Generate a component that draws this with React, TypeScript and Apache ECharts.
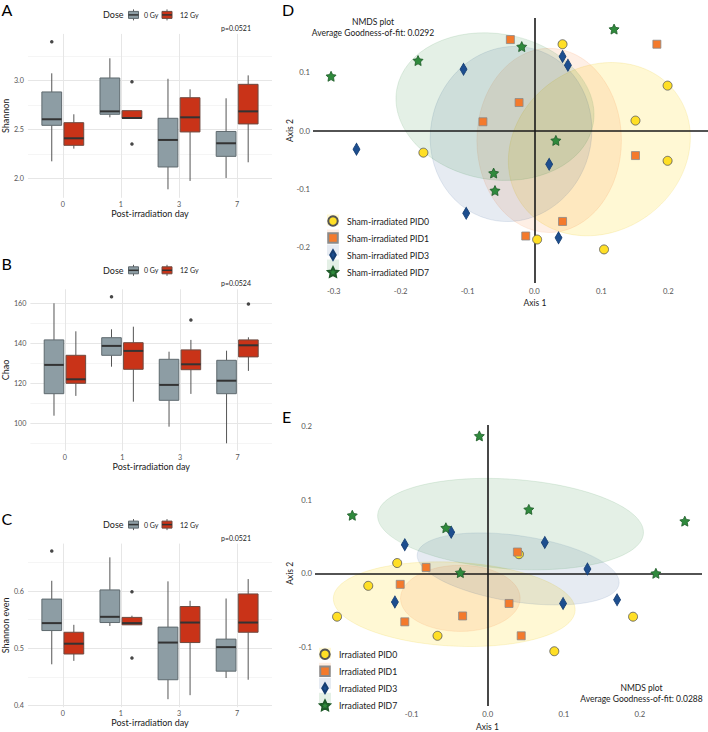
import React, { useEffect, useRef } from 'react';
import * as echarts from 'echarts';

// ---------- data ----------
const days = ['0', '1', '3', '7'];
const doses = ['0 Gy', '12 Gy'];

// five-number summaries [min, q1, median, q3, max] per post-irradiation day
const shannon0Gy = [[2.174, 2.543, 2.605, 2.885, 3.076], [2.625, 2.656, 2.686, 3.028, 3.23], [1.887, 2.116, 2.393, 2.615, 3.02], [2.003, 2.225, 2.359, 2.48, 2.82]];
const shannon12Gy = [[2.304, 2.338, 2.41, 2.57, 2.656], [2.615, 2.615, 2.618, 2.693, 2.693], [1.973, 2.475, 2.625, 2.826, 2.912], [2.164, 2.557, 2.686, 2.963, 3.055]];
const shannonOut0Gy = [[0, 3.4]];
const shannonOut12Gy = [[1, 2.99], [1, 2.352]];

const chao0Gy = [[103.8, 114.8, 129.2, 141.7, 160], [128.3, 134, 138.7, 142.8, 147], [98.3, 111.5, 119.2, 132, 135.8], [90, 114.8, 121.3, 131.5, 136.3]];
const chao12Gy = [[113.7, 120, 122, 134, 146], [110.8, 127, 136.2, 140.3, 148.3], [114.7, 126.8, 129.5, 136.7, 141.7], [126.2, 133.2, 139, 141.7, 143]];
const chaoOut0Gy = [[1, 163.3]];
const chaoOut12Gy = [[2, 151.7], [3, 159.7]];

const even0Gy = [[0.472, 0.531, 0.544, 0.586, 0.618], [0.539, 0.545, 0.555, 0.602, 0.659], [0.411, 0.445, 0.51, 0.537, 0.617], [0.448, 0.46, 0.502, 0.516, 0.587]];
const even12Gy = [[0.478, 0.49, 0.508, 0.528, 0.541], [0.541, 0.541, 0.544, 0.554, 0.557], [0.418, 0.51, 0.545, 0.573, 0.583], [0.445, 0.528, 0.545, 0.595, 0.621]];
const evenOut0Gy = [[0, 0.67]];
const evenOut12Gy = [[1, 0.599], [1, 0.483]];

const shannonTicks = [2.0, 2.5, 3.0];
const shannonMinor = [2.25, 2.75, 3.25];
const chaoTicks = [100, 120, 140, 160];
const chaoMinor = [90, 110, 130, 150];
const evenTicks = [0.4, 0.5, 0.6];
const evenMinor = [0.45, 0.55, 0.65];
const pValues = ['p=0.0521', 'p=0.0524', 'p=0.0521'];

// NMDS coordinates [axis1, axis2]
const shamNames = ['Sham-irradiated PID0', 'Sham-irradiated PID1', 'Sham-irradiated PID3', 'Sham-irradiated PID7'];
const shamPID0 = [[0.042, 0.148], [0.199, 0.077], [0.151, 0.017], [0.199, -0.052], [-0.166, -0.038], [0.004, -0.187], [0.104, -0.204]];
const shamPID1 = [[-0.036, 0.156], [0.183, 0.148], [-0.023, 0.048], [-0.077, 0.015], [0.151, -0.043], [0.042, -0.156], [-0.013, -0.181]];
const shamPID3 = [[0.042, 0.127], [0.05, 0.112], [-0.106, 0.105], [-0.266, -0.032], [0.022, -0.058], [-0.102, -0.142], [0.036, -0.184]];
const shamPID7 = [[0.119, 0.174], [-0.019, 0.144], [-0.174, 0.12], [-0.304, 0.093], [0.032, -0.017], [-0.061, -0.073], [-0.059, -0.103]];
// confidence ellipses [centre1, centre2, radius1, radius2, tilt(deg)]
const shamEllipses = [[0.097, -0.032, 0.142, 0.141, 35], [0.022, -0.017, 0.108, 0.158, 0], [-0.035, -0.006, 0.12, 0.151, -15], [-0.059, 0.041, 0.149, 0.125, -10]];
const shamXTicks = [-0.3, -0.2, -0.1, 0, 0.1, 0.2];
const shamYTicks = [-0.2, -0.1, 0, 0.1];
const shamFit = 'Average Goodness-of-fit: 0.0292';

const irrNames = ['Irradiated PID0', 'Irradiated PID1', 'Irradiated PID3', 'Irradiated PID7'];
const irrPID0 = [[-0.119, 0.014], [-0.157, -0.017], [-0.198, -0.059], [-0.066, -0.085], [0.041, 0.026], [0.191, -0.059], [0.0875, -0.106]];
const irrPID1 = [[-0.081, 0.008], [-0.115, -0.015], [-0.109, -0.066], [-0.033, -0.058], [0.039, 0.029], [0.028, -0.041], [0.044, -0.085]];
const irrPID3 = [[-0.109, 0.039], [-0.048, 0.056], [-0.122, -0.039], [0.075, 0.042], [0.131, 0.006], [0.099, -0.041], [0.17, -0.036]];
const irrPID7 = [[-0.178, 0.079], [-0.055, 0.062], [-0.036, 0.001], [0.054, 0.087], [0.259, 0.071], [0.221, 0.0], [-0.011, 0.187]];
const irrEllipses = [[-0.044, -0.042, 0.159, 0.057, -3], [-0.036, -0.034, 0.0786, 0.045, 0], [0.04, 0.006, 0.134, 0.045, -8.5], [0.03, 0.067, 0.175, 0.061, -4]];
const irrXTicks = [-0.1, 0, 0.1, 0.2];
const irrYTicks = [-0.1, 0, 0.1, 0.2];
const irrFit = 'Average Goodness-of-fit: 0.0288';

// ---------- styles ----------
const FONT = 'Lato';
const GRAY_FILL = '#8D9DA4';
const GRAY_LINE = '#5E696E';
const RED_FILL = '#C93318';
const RED_LINE = '#6E4A40';
const WHISKER = '#555555';
const MEDIAN = '#333333';
const MAJOR_GRID = '#E6E6E6';
const MINOR_GRID = '#F3F3F3';
const TICK_COLOR = '#555555';
const TITLE_COLOR = '#1a1a1a';

const groupColors = ['#FFDF26', '#F47A2C', '#1D4E8F', '#2F8A3C'];
const groupBorders = ['#555555', '#8a8a8a', '#173f73', '#1e5a28'];
const ellipseFills = ['rgba(255,215,0,0.17)', 'rgba(244,123,42,0.12)', 'rgba(26,74,138,0.11)', 'rgba(46,139,62,0.13)'];
const ellipseStrokes = ['rgba(230,190,0,0.18)', 'rgba(244,123,42,0.15)', 'rgba(26,74,138,0.13)', 'rgba(46,139,62,0.15)'];
const STAR = 'path://M0,-10L2.94,-4.05L9.51,-3.09L4.76,1.55L5.88,8.09L0,5L-5.88,8.09L-4.76,1.55L-9.51,-3.09L-2.94,-4.05Z';
const SQUARE = 'path://M0,0H10V10H0Z';
const DIAMOND = 'path://M3.5,0L7,6L3.5,12L0,6Z';
const symbols = ['circle', 'rect', 'diamond', STAR];
const symbolSizes: any[] = [9, 8, [7, 12], 10];
const legendIcons = ['circle', SQUARE, DIAMOND, STAR];

const OFF = 0.19;
const BOXW = 0.34;

// box panel layout (pixels) and axis ranges
const boxPanels = [
  { letter: 'A', name: 'Shannon', top: 33.9, height: 163.9, min: 1.8, max: 3.48, ctrl: shannon0Gy, irr: shannon12Gy, outC: shannonOut0Gy, outI: shannonOut12Gy, ticks: shannonTicks, minor: shannonMinor, fmt: (v: number) => v.toFixed(1), p: pValues[0] },
  { letter: 'B', name: 'Chao', top: 289.3, height: 161.4, min: 86.3, max: 167, ctrl: chao0Gy, irr: chao12Gy, outC: chaoOut0Gy, outI: chaoOut12Gy, ticks: chaoTicks, minor: chaoMinor, fmt: (v: number) => String(Math.round(v)), p: pValues[1] },
  { letter: 'C', name: 'Shannon even', top: 543.6, height: 163.6, min: 0.397, max: 0.683, ctrl: even0Gy, irr: even12Gy, outC: evenOut0Gy, outI: evenOut12Gy, ticks: evenTicks, minor: evenMinor, fmt: (v: number) => v.toFixed(1), p: pValues[2] },
];

function boxSeries(stats: number[][], xi: number, yi: number, sign: number, fill: string, stroke: string) {
  return {
    type: 'custom',
    xAxisIndex: xi,
    yAxisIndex: yi,
    z: 3,
    clip: false,
    data: stats.map((s, i) => [i + 1 + sign * OFF, ...s]),
    encode: { x: 0, y: [1, 2, 3, 4, 5] },
    renderItem: (params: any, api: any) => {
      const x = api.value(0);
      const lo = api.coord([x, api.value(1)]);
      const q1 = api.coord([x, api.value(2)]);
      const md = api.coord([x, api.value(3)]);
      const q3 = api.coord([x, api.value(4)]);
      const hi = api.coord([x, api.value(5)]);
      const w = api.size([BOXW, 0])[0];
      const cx = lo[0];
      return {
        type: 'group',
        children: [
          { type: 'line', shape: { x1: cx, y1: hi[1], x2: cx, y2: q3[1] }, style: { stroke: WHISKER, lineWidth: 1 } },
          { type: 'line', shape: { x1: cx, y1: q1[1], x2: cx, y2: lo[1] }, style: { stroke: WHISKER, lineWidth: 1 } },
          { type: 'rect', shape: { x: cx - w / 2, y: q3[1], width: w, height: Math.max(q1[1] - q3[1], 0.5) }, style: { fill, stroke, lineWidth: 1 } },
          { type: 'line', shape: { x1: cx - w / 2, y1: md[1], x2: cx + w / 2, y2: md[1] }, style: { stroke: MEDIAN, lineWidth: 2 } },
        ],
      };
    },
  };
}

function outlierSeries(pts: number[][], xi: number, yi: number, sign: number) {
  return {
    type: 'scatter',
    xAxisIndex: xi,
    yAxisIndex: yi,
    z: 4,
    symbol: 'circle',
    symbolSize: 3.5,
    itemStyle: { color: '#1a1a1a' },
    data: pts.map(([i, v]) => [i + 1 + sign * OFF, v]),
  };
}

function ellipseSeries(ell: number[][], xi: number, yi: number) {
  return {
    type: 'custom',
    xAxisIndex: xi,
    yAxisIndex: yi,
    z: 1,
    data: ell.map((e, g) => [...e, g]),
    encode: { x: 0, y: 1 },
    renderItem: (params: any, api: any) => {
      const c = api.coord([api.value(0), api.value(1)]);
      const s = api.size([api.value(2), api.value(3)]);
      const g = api.value(5);
      return {
        type: 'ellipse',
        x: c[0],
        y: c[1],
        rotation: (api.value(4) * Math.PI) / 180,
        shape: { cx: 0, cy: 0, rx: s[0], ry: s[1] },
        style: { fill: ellipseFills[g], stroke: ellipseStrokes[g], lineWidth: 0.8 },
      };
    },
    markLine: {
      silent: true,
      z: 2,
      symbol: ['none', 'none'],
      label: { show: false },
      lineStyle: { color: '#1a1a1a', width: 1.6, type: 'solid' },
      data: [{ xAxis: 0 }, { yAxis: 0 }],
    },
  };
}

function pointSeries(names: string[], groups: number[][][], xi: number, yi: number) {
  return groups.map((pts, g) => ({
    type: 'scatter',
    name: names[g],
    xAxisIndex: xi,
    yAxisIndex: yi,
    z: 3,
    symbol: symbols[g],
    symbolSize: symbolSizes[g],
    itemStyle: { color: groupColors[g], borderColor: groupBorders[g], borderWidth: 0.8, opacity: 1 },
    data: pts,
  }));
}

function txt(text: string, x: number, y: number, size: number, opts: any = {}) {
  return {
    type: 'text',
    x,
    y,
    rotation: opts.rotation || 0,
    z: 10,
    style: {
      text,
      fill: opts.color || TITLE_COLOR,
      fontSize: size,
      fontFamily: FONT,
      align: opts.align || 'left',
      verticalAlign: 'middle',
      textAlign: opts.align || 'left',
      textVerticalAlign: 'middle',
    },
  };
}

function boxKey(x: number, y: number, fill: string, stroke: string) {
  return [
    { type: 'line', z: 10, shape: { x1: x + 5, y1: y - 5.5, x2: x + 5, y2: y + 5.5 }, style: { stroke: WHISKER, lineWidth: 1 } },
    { type: 'rect', z: 10, shape: { x, y: y - 3.5, width: 10, height: 7 }, style: { fill, stroke, lineWidth: 1 } },
    { type: 'line', z: 10, shape: { x1: x, y1: y, x2: x + 10, y2: y }, style: { stroke: MEDIAN, lineWidth: 1.5 } },
  ];
}

function buildOption() {
  const grid: any[] = [];
  const xAxis: any[] = [];
  const yAxis: any[] = [];
  const series: any[] = [];
  const graphic: any[] = [];

  boxPanels.forEach((p, k) => {
    grid.push({ left: 27, top: p.top, width: 245, height: p.height });
    xAxis.push({
      type: 'value', gridIndex: k, min: 0.4, max: 4.6,
      name: 'Post-irradiation day', nameLocation: 'middle', nameGap: 10.5,
      nameTextStyle: { fontSize: 9, color: TITLE_COLOR, fontFamily: FONT },
      axisLine: { show: false },
      axisTick: { show: false, customValues: [1, 2, 3, 4] },
      axisLabel: { customValues: [1, 2, 3, 4], formatter: (v: number) => days[Math.round(v) - 1], fontSize: 7.2, color: TICK_COLOR, margin: 3, fontFamily: FONT },
      splitLine: { show: true, lineStyle: { color: MAJOR_GRID, width: 1 } },
    });
    yAxis.push({
      type: 'value', gridIndex: k, min: p.min, max: p.max,
      name: p.name, nameLocation: 'middle', nameGap: 15, nameRotate: 90,
      nameTextStyle: { fontSize: 9, color: TITLE_COLOR, fontFamily: FONT },
      axisLine: { show: false },
      axisTick: { show: false, customValues: p.ticks },
      axisLabel: { customValues: p.ticks, formatter: p.fmt, fontSize: 7.2, color: TICK_COLOR, margin: 4, fontFamily: FONT },
      splitLine: { show: true, lineStyle: { color: MAJOR_GRID, width: 1 } },
    });
  });

  // NMDS grids
  grid.push({ left: 313, top: 18, width: 395, height: 265 });
  grid.push({ left: 315, top: 425, width: 387, height: 281 });
  const nmdsAxes = [
    { g: 3, xmin: -0.331, xmax: 0.2594, ymin: -0.2616, ymax: 0.193, xt: shamXTicks, yt: shamYTicks },
    { g: 4, xmin: -0.227, xmax: 0.2816, ymin: -0.1805, ymax: 0.2018, xt: irrXTicks, yt: irrYTicks },
  ];
  const fmt1 = (v: number) => (Math.abs(v) < 1e-9 ? '0.0' : v.toFixed(1));
  nmdsAxes.forEach((a) => {
    xAxis.push({
      type: 'value', gridIndex: a.g, min: a.xmin, max: a.xmax,
      axisLine: { show: false }, axisTick: { show: false, customValues: a.xt }, splitLine: { show: false },
      axisLabel: { customValues: a.xt, formatter: fmt1, fontSize: 7.7, color: TICK_COLOR, margin: 4, fontFamily: FONT },
    });
    yAxis.push({
      type: 'value', gridIndex: a.g, min: a.ymin, max: a.ymax,
      axisLine: { show: false }, axisTick: { show: false, customValues: a.yt }, splitLine: { show: false },
      axisLabel: { customValues: a.yt, formatter: fmt1, fontSize: 7.7, color: TICK_COLOR, margin: 3, fontFamily: FONT },
    });
  });

  // minor grid axes for box panels (yAxis 5,6,7)
  boxPanels.forEach((p, k) => {
    yAxis.push({
      type: 'value', gridIndex: k, min: p.min, max: p.max,
      axisLine: { show: false }, axisLabel: { show: false },
      axisTick: { show: false, customValues: p.minor },
      splitLine: { show: true, lineStyle: { color: MINOR_GRID, width: 0.8 } },
    });
  });

  // box series
  boxPanels.forEach((p, k) => {
    series.push(boxSeries(p.ctrl, k, k, -1, GRAY_FILL, GRAY_LINE));
    series.push(boxSeries(p.irr, k, k, 1, RED_FILL, RED_LINE));
    series.push(outlierSeries(p.outC, k, k, -1));
    series.push(outlierSeries(p.outI, k, k, 1));

    // panel letter, dose legend, p value
    graphic.push(txt(p.letter, 1.5, Math.max(p.top - 25.5, 9), 16, { color: '#000' }));
    const ly = p.top - 19;
    graphic.push(txt('Dose', 103, ly, 9));
    graphic.push(...boxKey(128.5, ly, GRAY_FILL, GRAY_LINE));
    graphic.push(txt(doses[0], 144, ly, 7));
    graphic.push(...boxKey(162, ly, RED_FILL, RED_LINE));
    graphic.push(txt(doses[1], 180, ly, 7));
    graphic.push(txt(p.p, 236, p.top - 6, 7, { align: 'center' }));
  });

  // NMDS series
  series.push(ellipseSeries(shamEllipses, 3, 3));
  series.push(...pointSeries(shamNames, [shamPID0, shamPID1, shamPID3, shamPID7], 3, 3));
  series.push(ellipseSeries(irrEllipses, 4, 4));
  series.push(...pointSeries(irrNames, [irrPID0, irrPID1, irrPID3, irrPID7], 4, 4));

  // NMDS texts
  graphic.push(txt('D', 282, 9, 16, { color: '#000' }));
  graphic.push(txt('E', 282, 416.5, 16, { color: '#000' }));
  graphic.push(txt('NMDS plot', 373, 22, 8.5, { align: 'center' }));
  graphic.push(txt(shamFit, 373, 32.5, 8.5, { align: 'center' }));
  graphic.push(txt('NMDS plot', 641.5, 688.3, 8.5, { align: 'center' }));
  graphic.push(txt(irrFit, 641.5, 699.3, 8.5, { align: 'center' }));
  graphic.push(txt('Axis 1', 535, 303.3, 8.5, { align: 'center' }));
  graphic.push(txt('Axis 2', 290, 130.5, 8.5, { align: 'center', rotation: Math.PI / 2 }));
  graphic.push(txt('Axis 1', 487.5, 727, 8.5, { align: 'center' }));
  graphic.push(txt('Axis 2', 290, 573.3, 8.5, { align: 'center', rotation: Math.PI / 2 }));

  // legend key backgrounds
  [0, 1, 2, 3].forEach((g) => {
    graphic.push({ type: 'rect', z: 0, shape: { x: 327, y: 220 + 15 * g - 5.5, width: 12, height: 11 }, style: { fill: ellipseFills[g] } });
    graphic.push({ type: 'rect', z: 0, shape: { x: 319, y: 653.3 + 15 * g - 5.5, width: 12, height: 11 }, style: { fill: ellipseFills[g] } });
  });

  const legendBase = {
    orient: 'vertical', itemWidth: 12, itemHeight: 9.5, itemGap: 5.5, padding: 0, selectedMode: false,
    textStyle: { fontSize: 8.7, color: TITLE_COLOR, fontFamily: FONT, padding: [0, 0, 0, 3], lineHeight: 9.5 },
  };
  const legend = [
    { ...legendBase, left: 327, top: 215.25, data: shamNames.map((n, i) => ({ name: n, icon: legendIcons[i] })) },
    { ...legendBase, left: 319, top: 648.55, data: irrNames.map((n, i) => ({ name: n, icon: legendIcons[i] })) },
  ];

  return {
    animation: false,
    backgroundColor: '#ffffff',
    textStyle: { fontFamily: FONT },
    grid,
    xAxis,
    yAxis,
    legend,
    series,
    graphic: { elements: graphic },
  };
}

export default function App() {
  const ref = useRef<HTMLDivElement>(null);
  useEffect(() => {
    if (!ref.current) return;
    const chart = echarts.init(ref.current, undefined, { renderer: 'svg' });
    chart.setOption(buildOption() as any);
    return () => chart.dispose();
  }, []);
  return <div ref={ref} style={{ position: 'absolute', left: 0, top: 0, width: 708, height: 732, background: '#fff' }} />;
}
